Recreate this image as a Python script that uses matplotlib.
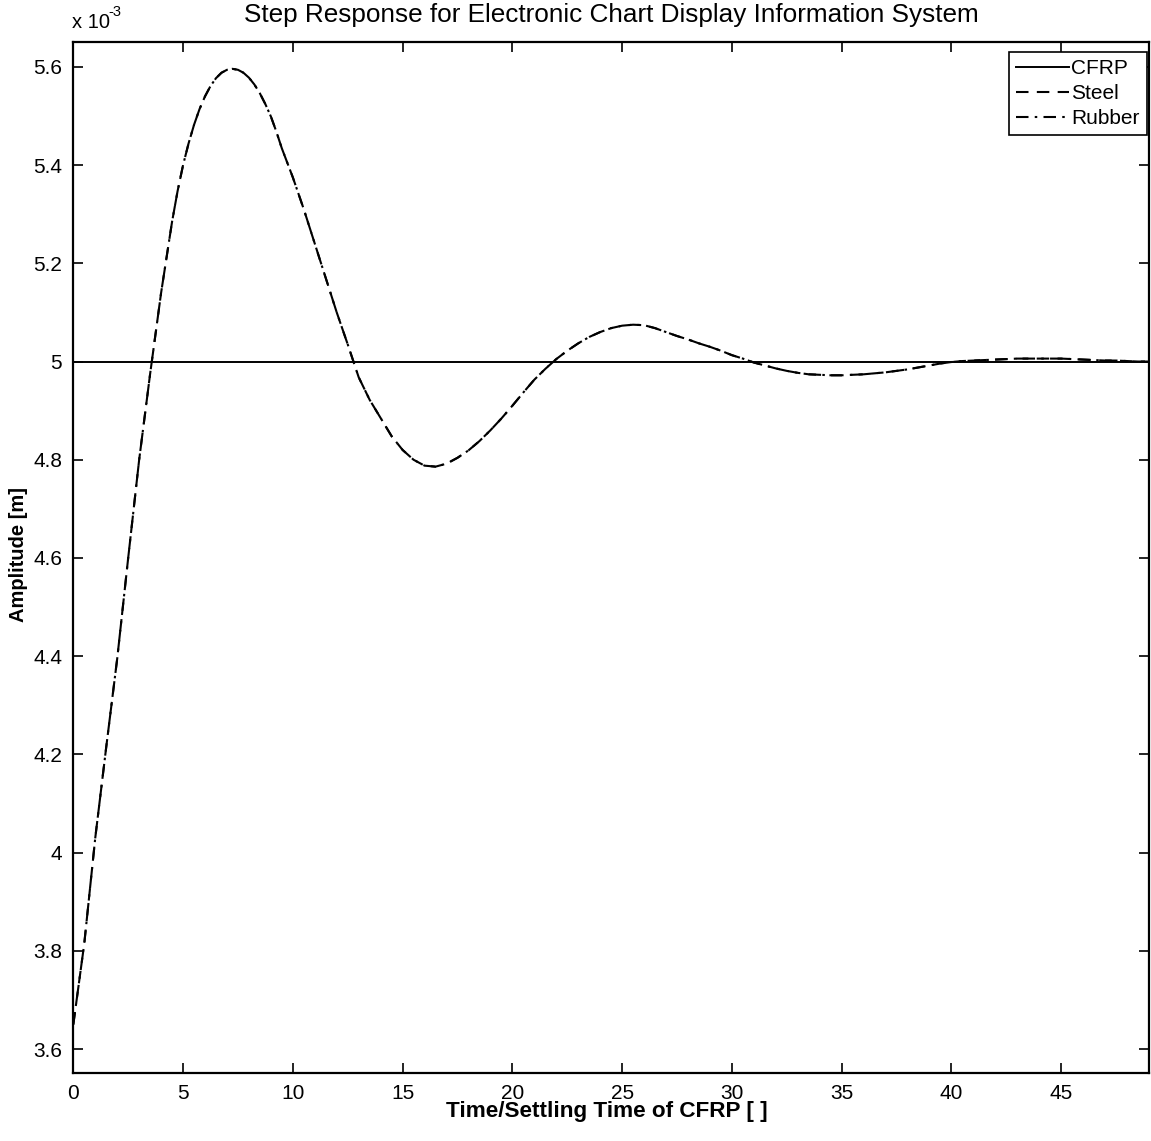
import matplotlib
matplotlib.use('Agg')
import matplotlib.pyplot as plt
from matplotlib.ticker import FuncFormatter, MultipleLocator

# normalised time (time / settling time of CFRP)
time = [0.0, 0.5, 1.0, 1.5, 2.0, 2.5, 3.0, 3.5, 4.0, 4.5,
        4.75, 5.0, 5.25, 5.5, 5.75, 6.0, 6.25, 6.5, 6.75, 7.0,
        7.25, 7.5, 7.75, 8.0, 8.25, 8.5, 8.75, 9.0, 9.25, 9.5,
        10.0, 10.5, 11.0, 11.5, 12.0, 12.5, 13.0, 13.5, 14.0, 14.5,
        15.0, 15.5, 16.0, 16.5, 17.0, 17.5, 18.0, 18.5, 19.0, 19.5,
        20.0, 20.5, 21.0, 21.5, 22.0, 22.5, 23.0, 23.5, 24.0, 24.5,
        25.0, 25.5, 26.0, 26.5, 27.0, 27.5, 28.0, 28.5, 29.0, 29.5,
        30.0, 30.5, 31.0, 31.5, 32.0, 32.5, 33.0, 33.5, 34.0, 34.5,
        35.0, 35.5, 36.0, 36.5, 37.0, 37.5, 38.0, 38.5, 39.0, 39.5,
        40.0, 40.5, 41.0, 41.5, 42.0, 42.5, 43.0, 43.5, 44.0, 44.5,
        45.0, 45.5, 46.0, 46.5, 47.0, 47.5, 48.0, 48.5, 49.0]

# amplitudes in units of 1e-3 m
steel_amp = [3.650, 3.815, 4.030, 4.215, 4.395, 4.600, 4.800, 4.975, 5.140, 5.285,
             5.347, 5.400, 5.444, 5.482, 5.514, 5.540, 5.561, 5.577, 5.588, 5.594,
             5.596, 5.594, 5.588, 5.578, 5.564, 5.546, 5.524, 5.499, 5.468, 5.434,
             5.375, 5.310, 5.240, 5.170, 5.100, 5.035, 4.968, 4.922, 4.885, 4.848,
             4.820, 4.800, 4.788, 4.786, 4.792, 4.804, 4.819, 4.838, 4.860, 4.884,
             4.910, 4.937, 4.963, 4.985, 5.005, 5.022, 5.037, 5.050, 5.060, 5.068,
             5.073, 5.075, 5.074, 5.068, 5.060, 5.052, 5.045, 5.037, 5.030, 5.022,
             5.013, 5.006, 4.998, 4.992, 4.986, 4.981, 4.977, 4.974, 4.973, 4.972,
             4.972, 4.973, 4.974, 4.976, 4.978, 4.981, 4.984, 4.988, 4.992, 4.996,
             4.999, 5.001, 5.002, 5.003, 5.004, 5.005, 5.006, 5.006, 5.006, 5.006,
             5.006, 5.005, 5.004, 5.003, 5.002, 5.002, 5.001, 5.000, 5.000]

# rubber and steel responses coincide at this resolution
rubber_amp = list(steel_amp)

cfrp_time = [0.0, 49.0]
cfrp_amp = [5.0, 5.0]

y_ticks = [3.6, 3.8, 4.0, 4.2, 4.4, 4.6, 4.8, 5.0, 5.2, 5.4, 5.6]

plt.rcParams['font.family'] = ['Liberation Sans', 'DejaVu Sans']

W, H = 1151, 1141
fig = plt.figure(figsize=(W / 100, H / 100), dpi=100)
ax = fig.add_axes([73.3 / W, 1 - 1072.7 / H, (1149 - 73.3) / W, (1072.7 - 42.3) / H])

ax.plot(cfrp_time, cfrp_amp, color='black', lw=1.4, ls='-', label='CFRP')
ax.plot(time, steel_amp, color='black', lw=1.5, ls=(0, (6, 4)), label='Steel')
ax.plot(time, rubber_amp, color='black', lw=1.5, ls=(0, (6, 3, 1.2, 3)), label='Rubber')

ax.set_xlim(0, 49)
ax.set_ylim(3.552, 5.650)
ax.xaxis.set_major_locator(MultipleLocator(5))
ax.set_yticks(y_ticks)
ax.yaxis.set_major_formatter(FuncFormatter(lambda v, p: f'{round(v, 3):g}'))

ax.tick_params(direction='in', length=7, width=1.2, top=True, right=True,
               labelsize=15, pad=8)
for s in ax.spines.values():
    s.set_linewidth(1.6)

# exponent marker above the y axis
fig.text(72 / W, 1 - 23 / H, 'x 10', fontsize=14.5, ha='left', va='center')
fig.text(108 / W, 1 - 12 / H, '-3', fontsize=10.5, ha='left', va='center')

fig.text(611 / W, 1 - 15 / H,
         'Step Response for Electronic Chart Display Information System',
         fontsize=18.8, ha='center', va='center')
fig.text(607 / W, 1 - 1112 / H, 'Time/Settling Time of CFRP [ ]',
         fontsize=16.2, fontweight='bold', ha='center', va='center')
fig.text(19 / W, 1 - 554 / H, 'Amplitude [m]', rotation=90,
         fontsize=14.5, fontweight='bold', ha='center', va='center')

leg = ax.legend(loc='upper right', bbox_to_anchor=(1147 / W, 1 - 52 / H),
                bbox_transform=fig.transFigure, borderaxespad=0,
                fontsize=15, frameon=True, fancybox=False,
                edgecolor='black', framealpha=1, handlelength=2.55,
                handletextpad=0.1, borderpad=0.35, labelspacing=0.28)
leg.get_frame().set_linewidth(1.2)

fig.savefig('out.png', dpi=100)
